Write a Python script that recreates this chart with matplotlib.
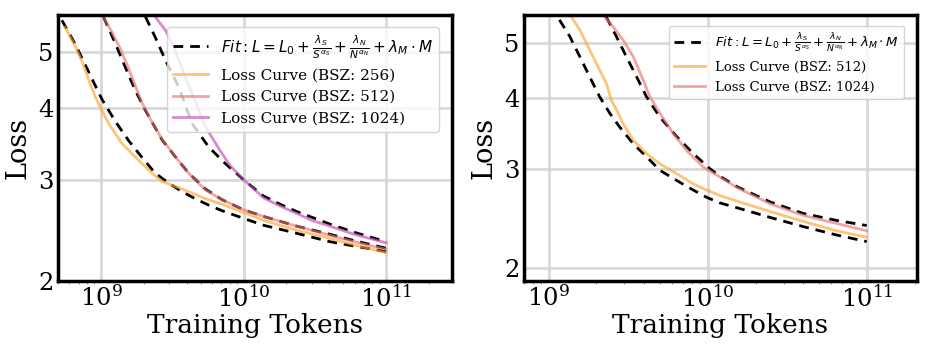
import matplotlib
matplotlib.use("Agg")
import matplotlib.pyplot as plt

plt.rcParams['font.family'] = 'DejaVu Serif'
plt.rcParams['mathtext.fontset'] = 'dejavusans'

FIT_LABEL = r'$Fit: L = L_0 + \frac{\lambda_S}{S^{\alpha_S}} + \frac{\lambda_N}{N^{\alpha_N}} + \lambda_M \cdot M$'

# ---- left panel (BSZ 256 / 512 / 1024) ----
left_256_x = [5.6e8, 5.93e8, 6.6e8, 7.36e8, 8.19e8, 9.12e8, 1.016e9, 1.13e9, 1.26e9, 1.40e9,
              1.65e9, 1.94e9, 2.28e9, 2.68e9, 3.32e9, 4.12e9, 5.4e9, 7.06e9, 1e10,
              1.38e10, 2.37e10, 4.06e10, 6e10, 1e11]
left_256_y = [5.52, 5.38, 5.12, 4.82, 4.48, 4.18, 3.96, 3.76, 3.61, 3.47,
              3.33, 3.20, 3.08, 2.98, 2.92, 2.86, 2.78, 2.72, 2.63,
              2.55, 2.45, 2.37, 2.31, 2.24]
left_256_fit_x = [5.32e8, 6.6e8, 8.19e8, 1.016e9, 1.26e9, 1.56e9, 1.94e9, 2.40e9, 2.98e9,
                  3.70e9, 4.59e9, 5.69e9, 7.06e9, 1e10, 1.38e10, 2.37e10, 4.06e10, 6e10, 1e11]
left_256_fit_y = [5.68, 5.16, 4.62, 4.14, 3.79, 3.51, 3.28, 3.08, 2.96,
                  2.86, 2.78, 2.71, 2.65, 2.57, 2.50, 2.42, 2.34, 2.30, 2.25]

left_512_x = [1.04e9, 1.19e9, 1.36e9, 1.52e9, 1.69e9, 1.94e9, 2.28e9, 2.68e9, 3.32e9,
              4.12e9, 5.4e9, 7.06e9, 1e10, 1.38e10, 2.37e10, 4.06e10, 6e10, 1e11]
left_512_y = [5.76, 5.42, 5.08, 4.76, 4.45, 4.08, 3.78, 3.53, 3.29,
              3.08, 2.88, 2.77, 2.66, 2.59, 2.49, 2.40, 2.34, 2.27]
left_512_fit_x = [1.04e9, 1.26e9, 1.48e9, 1.74e9, 2.05e9, 2.68e9, 3.32e9, 4.12e9, 5.4e9,
                  7.06e9, 1e10, 1.38e10, 2.37e10, 4.06e10, 6e10, 1e11]
left_512_fit_y = [5.76, 5.18, 4.71, 4.29, 3.96, 3.52, 3.29, 3.08, 2.89,
                  2.77, 2.66, 2.59, 2.49, 2.41, 2.35, 2.28]

left_1024_x = [2.40e9, 2.83e9, 3.3e9, 3.9e9, 4.6e9, 5.4e9, 6.7e9, 8.0e9, 1e10,
               1.2e10, 1.38e10, 1.8e10, 2.37e10, 3.0e10, 4.06e10, 6e10, 1e11]
left_1024_y = [5.76, 5.46, 5.05, 4.53, 4.10, 3.71, 3.40, 3.18, 3.00,
               2.88, 2.79, 2.70, 2.62, 2.55, 2.49, 2.41, 2.33]
left_1024_fit_x = [2.05e9, 2.40e9, 2.83e9, 3.51e9, 4.35e9, 5.69e9, 7.45e9, 1e10,
                   1.38e10, 1.8e10, 2.37e10, 4.06e10, 6e10, 1e11]
left_1024_fit_y = [5.76, 5.31, 4.84, 4.35, 3.76, 3.42, 3.20, 3.00,
                   2.81, 2.72, 2.64, 2.51, 2.43, 2.34]

# ---- right panel (BSZ 512 / 1024) ----
right_512_x = [1.39e9, 1.57e9, 1.73e9, 1.90e9, 2.09e9, 2.31e9, 2.48e9, 2.67e9, 2.94e9,
               3.40e9, 4.12e9, 5.0e9, 6.37e9, 8.11e9, 9.84e9, 1.19e10, 1.52e10,
               2.47e10, 3.99e10, 6.48e10, 1e11]
right_512_y = [5.56, 5.27, 4.99, 4.73, 4.48, 4.24, 3.96, 3.81, 3.60,
               3.37, 3.19, 3.06, 2.94, 2.82, 2.75, 2.69, 2.63,
               2.52, 2.42, 2.33, 2.27]
right_512_fit_x = [1.17e9, 1.36e9, 1.57e9, 1.81e9, 2.09e9, 2.42e9, 2.80e9, 3.40e9,
                   4.12e9, 5.0e9, 6.37e9, 8.11e9, 9.84e9, 1.19e10, 1.52e10,
                   2.47e10, 3.99e10, 6.48e10, 1e11]
right_512_fit_y = [5.49, 5.13, 4.73, 4.36, 4.02, 3.76, 3.55, 3.32,
                   3.15, 2.98, 2.86, 2.75, 2.67, 2.61, 2.56,
                   2.46, 2.37, 2.29, 2.23]

right_1024_x = [2.25e9, 2.54e9, 2.94e9, 3.40e9, 3.93e9, 4.33e9, 5.0e9, 6.07e9, 7.36e9,
                9.37e9, 1.19e10, 1.52e10, 2.47e10, 3.99e10, 6.48e10, 1e11]
right_1024_y = [5.56, 5.34, 5.06, 4.73, 4.30, 4.02, 3.76, 3.46, 3.23,
                3.02, 2.90, 2.78, 2.60, 2.48, 2.40, 2.33]
right_1024_fit_x = [2.3e9, 2.67e9, 3.08e9, 3.57e9, 4.12e9, 5.0e9, 6.37e9, 8.11e9,
                    1.03e10, 1.19e10, 1.52e10, 2.47e10, 3.99e10, 6.48e10, 1e11]
right_1024_fit_y = [5.56, 5.13, 4.73, 4.36, 4.02, 3.70, 3.42, 3.19,
                    3.00, 2.91, 2.79, 2.62, 2.50, 2.43, 2.38]

ORANGE = '#FDA532'
PINK = '#EC7474'
PURPLE = '#C24DB5'


def style_axes(ax, xlim, ylim):
    ax.set_xscale('log')
    ax.set_yscale('log')
    ax.set_xlim(*xlim)
    ax.set_ylim(*ylim)
    ax.set_yticks([2, 3, 4, 5])
    ax.set_yticklabels(['2', '3', '4', '5'])
    ax.yaxis.set_minor_locator(matplotlib.ticker.NullLocator())
    ax.set_xticks([1e9, 1e10, 1e11])
    ax.tick_params(axis='both', which='major', labelsize=17.5, length=0, pad=3)
    ax.tick_params(axis='x', which='minor', length=2, color='#888888')
    ax.grid(True, which='major', color='#d0d0d0', linewidth=2, alpha=0.8)
    for s in ax.spines.values():
        s.set_linewidth(2.5)
    ax.set_xlabel('Training Tokens', fontsize=19, labelpad=1)
    ax.set_ylabel('Loss', fontsize=19.5, labelpad=5)


fig = plt.figure(figsize=(9.3, 3.63), dpi=100)
ax1 = fig.add_axes([0.0624, 0.2259, 0.4237, 0.7328])
ax2 = fig.add_axes([0.5634, 0.2259, 0.4226, 0.7328])

dash = dict(color='black', linestyle='--', linewidth=2, dashes=(3.5, 2.5))
curve = dict(linewidth=2, alpha=0.65)

ax1.plot(left_256_fit_x, left_256_fit_y, label=FIT_LABEL, **dash)
ax1.plot(left_512_fit_x, left_512_fit_y, **dash)
ax1.plot(left_1024_fit_x, left_1024_fit_y, **dash)
ax1.plot(left_256_x, left_256_y, color=ORANGE, label='Loss Curve (BSZ: 256)', **curve)
ax1.plot(left_512_x, left_512_y, color=PINK, label='Loss Curve (BSZ: 512)', **curve)
ax1.plot(left_1024_x, left_1024_y, color=PURPLE, label='Loss Curve (BSZ: 1024)', **curve)
style_axes(ax1, (5.0e8, 2.9e11), (2.0, 5.8))
ax1.legend(loc='upper right', fontsize=11, handlelength=2.3, borderpad=0.4,
           labelspacing=0.5, bbox_to_anchor=(0.985, 0.985))

ax2.plot(right_512_fit_x, right_512_fit_y, label=FIT_LABEL, **dash)
ax2.plot(right_1024_fit_x, right_1024_fit_y, **dash)
ax2.plot(right_512_x, right_512_y, color=ORANGE, label='Loss Curve (BSZ: 512)', **curve)
ax2.plot(right_1024_x, right_1024_y, color=PINK, label='Loss Curve (BSZ: 1024)', **curve)
style_axes(ax2, (7.0e8, 2.07e11), (1.9, 5.6))
ax2.legend(loc='upper right', fontsize=9.5, handlelength=2.3, borderpad=0.4,
           labelspacing=0.5, bbox_to_anchor=(0.985, 0.985))

fig.savefig('out.png', dpi=100)
